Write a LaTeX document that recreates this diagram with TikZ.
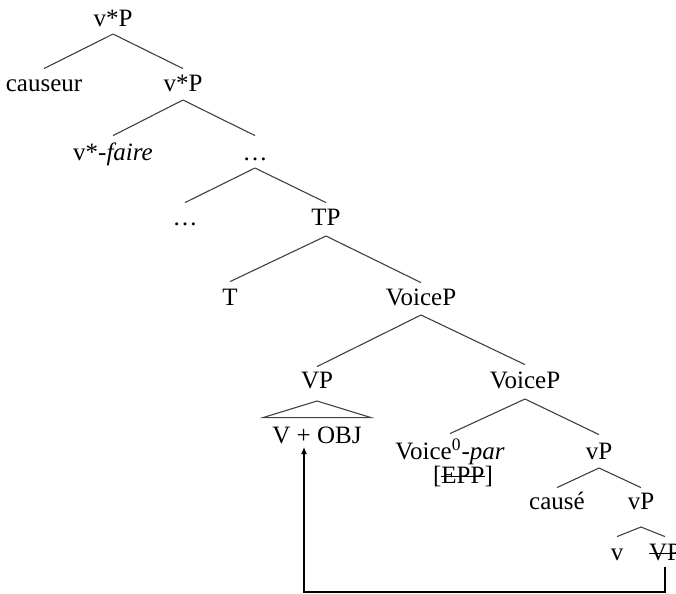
\documentclass[tikz,border=0pt]{standalone}
\usepackage{fontspec}
\setmainfont{Liberation Serif}
\usetikzlibrary{arrows.meta}
\newcommand{\strk}[1]{{\setbox0\hbox{#1}\rlap{\rule[2.9pt]{\wd0}{0.5pt}}\box0}}
\begin{document}
\begin{tikzpicture}[x=0.5pt,y=-0.5pt,
  lbl/.style={anchor=base,inner sep=0pt,outer sep=0pt,text height=8.2pt,text depth=0pt,font=\fontsize{12.5}{15}\selectfont},
  branch/.style={draw=black!75,line width=0.55pt},
  mover/.style={draw=black,line width=0.6pt,-{Latex[length=3.5pt,width=3pt]}}]
\useasboundingbox (0,0) rectangle (676,594);
% nodes
\node[lbl] (vP1) at (113,26) {v*P};
\node[lbl] (causeur) at (44,91) {causeur};
\node[lbl] (vP2) at (183,91) {v*P};
\node[lbl] (faire) at (113,160) {v*-\textit{faire}};
\node[lbl] (dots1) at (255,160) {\dots};
\node[lbl] (dots2) at (185,225) {\dots};
\node[lbl] (TP) at (326,225) {TP};
\node[lbl] (T) at (230,305) {T};
\node[lbl] (VoiceP1) at (421,305) {VoiceP};
\node[lbl] (VP) at (317,388) {VP};
\node[lbl] (VoiceP2) at (525,388) {VoiceP};
\node[lbl] (VOBJ) at (317,443) {V + OBJ};
\node[lbl] (Voicepar) at (450,459) {Voice\textsuperscript{0}-\textit{par}};
\node[lbl] (EPP) at (463,483) {[\strk{EPP}]};
\node[lbl] (vP3) at (599,459) {vP};
\node[lbl] (cause) at (557,509) {causé};
\node[lbl] (vP4) at (641,509) {vP};
\node[lbl] (v) at (617,560) {v};
\node[lbl] (VPs) at (665,560) {\strk{VP}};
% branches
\draw[branch] ([yshift=-4pt]vP1.south) -- ([yshift=3pt]causeur.north);
\draw[branch] ([yshift=-4pt]vP1.south) -- ([yshift=3pt]vP2.north);
\draw[branch] ([yshift=-4.5pt]vP2.south) -- ([yshift=4pt]faire.north);
\draw[branch] ([yshift=-4.5pt]vP2.south) -- ([yshift=4pt]dots1.north);
\draw[branch] ([yshift=-4pt]dots1.south) -- ([yshift=3pt]dots2.north);
\draw[branch] ([yshift=-4pt]dots1.south) -- ([yshift=3pt]TP.north);
\draw[branch] ([yshift=-5.5pt]TP.south) -- ([yshift=3.5pt]T.north);
\draw[branch] ([yshift=-5.5pt]TP.south) -- ([yshift=3pt]VoiceP1.north);
\draw[branch] ([yshift=-5pt]VoiceP1.south) -- ([yshift=2.5pt]VP.north);
\draw[branch] ([yshift=-5pt]VoiceP1.south) -- ([yshift=3.5pt]VoiceP2.north);
\draw[branch] ([yshift=-5.5pt]VoiceP2.south) -- ([yshift=4.5pt]Voicepar.north);
\draw[branch] ([yshift=-5.5pt]VoiceP2.south) -- ([yshift=4pt]vP3.north);
\draw[branch] ([yshift=-4.5pt]vP3.south) -- ([yshift=2.5pt]cause.north);
\draw[branch] ([yshift=-4.5pt]vP3.south) -- ([yshift=2.5pt]vP4.north);
\draw[branch] ([yshift=-9pt]vP4.south) -- ([yshift=3.5pt]v.north);
\draw[branch] ([yshift=-9pt]vP4.south) -- ([yshift=3.5pt]VPs.north);
% triangle
\draw[branch] ([yshift=-6.5pt]VP.south) -- ([shift={(-27pt,4.5pt)}]VOBJ.north) -- ([shift={(27pt,4.5pt)}]VOBJ.north) -- cycle;
% movement arrow
\coordinate (bend) at (304,592);
\draw[mover] ([yshift=-3.5pt]VPs.south) |- (bend) -- ([xshift=-6.5pt,yshift=-2pt]VOBJ.south);
\end{tikzpicture}
\end{document}
